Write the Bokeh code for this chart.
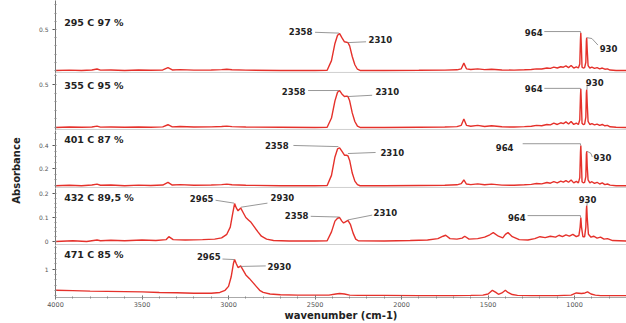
from math import pi

from bokeh.core.properties import value
from bokeh.embed import file_html
from bokeh.layouts import column, row
from bokeh.models import FixedTicker, Range1d, Span
from bokeh.plotting import figure
from bokeh.resources import INLINE

# ---------------------------------------------------------------- data
WN_MAJOR = [4000, 3500, 3000, 2500, 2000, 1500, 1000]
WN_MINOR = list(range(4000, 699, -100))

TITLES = ["295 C  97 %", "355 C 95 %", "401 C  87 %", "432 C 89,5 %", "471 C  85 %"]

# wavenumber grid shared by the three low-temperature spectra (cm-1)
wn_low = [4000, 3920, 3850, 3790, 3760, 3740, 3680, 3600, 3520, 3450, 3380, 3350,
          3325, 3280, 3200, 3100, 3040, 3010, 2980, 2900, 2700, 2500, 2430, 2405,
          2385, 2370, 2358, 2345, 2330, 2318, 2310, 2300, 2285, 2270, 2255, 2240,
          2100, 1900, 1750, 1680, 1655, 1640, 1625, 1600, 1560, 1520, 1480, 1420,
          1350, 1290, 1250, 1220, 1190, 1160, 1140, 1120, 1100, 1080, 1065, 1050,
          1035, 1020, 1005, 990, 978, 970, 966, 964, 961, 957, 950, 942,
          935, 932, 930, 927, 922, 912, 900, 885, 870, 855, 840, 825,
          810, 795, 760, 700]

abs_295 = [0.0, 0.004, 0.0, 0.006, 0.018, 0.004, 0.006, 0.0, 0.005, 0.002, 0.006, 0.035,
           0.006, 0.01, 0.004, 0.006, 0.01, 0.014, 0.008, 0.004, 0.0, 0.0, 0.002, 0.12,
           0.33, 0.43, 0.45, 0.40, 0.35, 0.345, 0.34, 0.30, 0.17, 0.07, 0.015, 0.0,
           0.0, 0.002, 0.004, 0.008, 0.02, 0.09, 0.02, 0.012, 0.02, 0.01, 0.015, 0.006,
           0.004, 0.008, 0.012, 0.02, 0.018, 0.03, 0.025, 0.04, 0.03, 0.045, 0.04, 0.055,
           0.035, 0.06, 0.03, 0.045, 0.03, 0.08, 0.38, 0.46, 0.30, 0.04, 0.03, 0.035,
           0.10, 0.36, 0.40, 0.25, 0.06, 0.03, 0.04, 0.025, 0.035, 0.02, 0.03, 0.015,
           0.02, 0.005, 0.0, 0.0]

abs_355 = [0.0, 0.005, 0.002, 0.006, 0.016, 0.004, 0.006, 0.002, 0.006, 0.003, 0.007, 0.032,
           0.007, 0.012, 0.005, 0.007, 0.012, 0.016, 0.01, 0.005, 0.002, 0.0, 0.002, 0.11,
           0.31, 0.41, 0.43, 0.39, 0.36, 0.365, 0.36, 0.31, 0.17, 0.07, 0.015, 0.0,
           0.0, 0.003, 0.005, 0.01, 0.025, 0.10, 0.025, 0.015, 0.025, 0.012, 0.02, 0.008,
           0.005, 0.01, 0.015, 0.025, 0.02, 0.035, 0.03, 0.05, 0.035, 0.055, 0.045, 0.065,
           0.04, 0.07, 0.035, 0.05, 0.035, 0.09, 0.37, 0.45, 0.30, 0.05, 0.035, 0.04,
           0.12, 0.40, 0.44, 0.28, 0.07, 0.035, 0.045, 0.03, 0.04, 0.025, 0.035, 0.02,
           0.025, 0.008, 0.002, 0.0]

abs_401 = [0.05, 0.054, 0.05, 0.056, 0.064, 0.054, 0.056, 0.05, 0.055, 0.052, 0.056, 0.08,
           0.056, 0.06, 0.054, 0.056, 0.06, 0.064, 0.058, 0.054, 0.05, 0.05, 0.052, 0.14,
           0.30, 0.37, 0.38, 0.35, 0.315, 0.315, 0.31, 0.27, 0.16, 0.09, 0.06, 0.05,
           0.05, 0.052, 0.054, 0.058, 0.068, 0.10, 0.065, 0.06, 0.066, 0.058, 0.064, 0.055,
           0.054, 0.058, 0.062, 0.07, 0.066, 0.078, 0.072, 0.085, 0.075, 0.09, 0.082, 0.095,
           0.08, 0.10, 0.075, 0.088, 0.075, 0.12, 0.34, 0.40, 0.28, 0.085, 0.075, 0.08,
           0.13, 0.32, 0.35, 0.22, 0.10, 0.075, 0.085, 0.07, 0.08, 0.065, 0.075, 0.06,
           0.065, 0.055, 0.05, 0.05]

wn_432 = [4000, 3900, 3820, 3760, 3740, 3680, 3600, 3500, 3420, 3360, 3345, 3320,
          3250, 3150, 3080, 3040, 3010, 2990, 2975, 2965, 2955, 2945, 2938, 2930,
          2915, 2900, 2885, 2870, 2850, 2830, 2810, 2780, 2740, 2650, 2500, 2430,
          2405, 2385, 2370, 2358, 2345, 2335, 2322, 2310, 2295, 2280, 2265, 2250,
          2100, 1950, 1850, 1790, 1760, 1745, 1720, 1680, 1650, 1635, 1610, 1560,
          1520, 1490, 1470, 1440, 1415, 1400, 1385, 1360, 1320, 1270, 1230, 1200,
          1170, 1140, 1110, 1090, 1070, 1050, 1030, 1010, 990, 975, 968, 964,
          960, 952, 942, 935, 932, 930, 927, 920, 905, 890, 870, 850,
          830, 810, 780, 700]

abs_432 = [0.0, 0.003, 0.0, 0.006, 0.003, 0.005, 0.003, 0.006, 0.004, 0.008, 0.02, 0.008,
           0.006, 0.008, 0.01, 0.015, 0.03, 0.06, 0.12, 0.158, 0.14, 0.128, 0.133, 0.14,
           0.12, 0.10, 0.09, 0.08, 0.06, 0.04, 0.022, 0.01, 0.004, 0.002, 0.002, 0.003,
           0.04, 0.085, 0.097, 0.10, 0.085, 0.077, 0.083, 0.088, 0.07, 0.035, 0.01, 0.003,
           0.002, 0.004, 0.006, 0.012, 0.022, 0.026, 0.012, 0.01, 0.014, 0.022, 0.01, 0.012,
           0.018, 0.028, 0.037, 0.022, 0.015, 0.03, 0.037, 0.02, 0.008, 0.006, 0.012, 0.02,
           0.016, 0.022, 0.018, 0.026, 0.02, 0.028, 0.022, 0.03, 0.02, 0.025, 0.06, 0.10,
           0.06, 0.02, 0.02, 0.06, 0.13, 0.15, 0.10, 0.03, 0.018, 0.022, 0.014, 0.018,
           0.01, 0.012, 0.004, 0.002]

wn_471 = [4000, 3900, 3800, 3700, 3600, 3500, 3400, 3300, 3200, 3100, 3050, 3020,
          3000, 2985, 2972, 2965, 2955, 2945, 2938, 2930, 2915, 2900, 2880, 2860,
          2840, 2820, 2800, 2760, 2700, 2600, 2500, 2420, 2380, 2358, 2330, 2300,
          2250, 2100, 1900, 1700, 1600, 1530, 1500, 1475, 1455, 1440, 1420, 1400,
          1385, 1360, 1330, 1250, 1100, 1020, 990, 960, 940, 925, 905, 880,
          850, 800, 700]

abs_471 = [0.20, 0.19, 0.17, 0.16, 0.15, 0.14, 0.12, 0.11, 0.09, 0.09, 0.12, 0.20,
           0.35, 0.70, 1.20, 1.36, 1.20, 1.06, 1.08, 1.12, 0.95, 0.78, 0.65, 0.50,
           0.35, 0.20, 0.12, 0.06, 0.03, 0.02, 0.02, 0.02, 0.06, 0.08, 0.06, 0.02,
           0.01, 0.01, 0.0, 0.0, 0.01, 0.02, 0.06, 0.20, 0.12, 0.05, 0.10, 0.20,
           0.12, 0.04, 0.01, 0.0, 0.0, 0.02, 0.10, 0.08, 0.10, 0.14, 0.06, 0.02,
           0.0, 0.0, 0.0]

# ---------------------------------------------------------------- styling
LINE = "#e5312b"
LEAD = "#7d7d7d"
FONT = "DejaVu Sans"
TOTAL_W, LEFT_W = 626, 22

# peak call-outs: (text, x, y, align, leader x list, leader y list)
panels = [
    dict(wn=wn_low, ab=abs_295, height=73, yr=(-0.037, 0.854), ticks=[0.5],
         minor=[i / 10 for i in range(0, 9)], title_y=0.585, sep=-0.024,
         notes=[("2358", 2515, 0.476, "right", [2500, 2362], [0.466, 0.456]),
                ("2310", 2191, 0.378, "left", [2310, 2205], [0.34, 0.35]),
                ("964", 1185, 0.463, "right", [1175, 966, 966], [0.475, 0.475, 0.46]),
                ("930", 855, 0.27, "left", [928, 900, 865], [0.40, 0.39, 0.31])]),
    dict(wn=wn_low, ab=abs_355, height=57, yr=(-0.035, 0.628), ticks=[0.5],
         minor=[i / 10 for i in range(0, 7)], title_y=0.49, sep=-0.023,
         notes=[("2358", 2555, 0.419, "right", [2540, 2362], [0.43, 0.43]),
                ("2310", 2151, 0.419, "left", [2310, 2170], [0.36, 0.375]),
                ("964", 1185, 0.453, "right", [1175, 966, 966], [0.455, 0.455, 0.45]),
                ("930", 935, 0.525, "left", [928, 928], [0.49, 0.44])]),
    dict(wn=wn_low, ab=abs_401, height=58, yr=(0.026, 0.53), ticks=[0.2, 0.4],
         minor=[i / 20 for i in range(1, 11)], title_y=0.45, sep=0.035,
         notes=[("2358", 2653, 0.40, "right", [2625, 2365], [0.40, 0.39]),
                ("2310", 2122, 0.339, "left", [2310, 2150], [0.33, 0.339]),
                ("964", 1353, 0.383, "right", [1300, 966, 966], [0.415, 0.415, 0.40]),
                ("930", 890, 0.296, "left", [928, 905, 898], [0.35, 0.33, 0.30])]),
    dict(wn=wn_432, ab=abs_432, height=57, yr=(-0.0167, 0.221), ticks=[0.0, 0.1, 0.2],
         minor=[i / 50 for i in range(0, 11)], title_y=0.183, sep=-0.0125,
         notes=[("2965", 3087, 0.179, "right", [3075, 2968], [0.172, 0.16]),
                ("2930", 2757, 0.183, "left", [2928, 2775], [0.143, 0.16]),
                ("2358", 2538, 0.108, "right", [2525, 2360], [0.105, 0.102]),
                ("2310", 2162, 0.121, "left", [2310, 2170], [0.09, 0.11]),
                ("964", 1283, 0.10, "right", [1272, 966, 966], [0.108, 0.108, 0.10]),
                ("930", 925, 0.175, "center", [928, 928], [0.165, 0.15])]),
    dict(wn=wn_471, ab=abs_471, height=78, yr=(-0.071, 1.89), ticks=[1],
         minor=[i / 5 for i in range(0, 10)], title_y=1.54, sep=None,
         notes=[("2965", 3046, 1.46, "right", [3035, 2968], [1.38, 1.36]),
                ("2930", 2775, 1.107, "left", [2930, 2785], [1.10, 1.12])]),
]

x_range = Range1d(4000, 700)
figs = []
for i, (title, cfg) in enumerate(zip(TITLES, panels)):
    last = i == len(panels) - 1
    p = figure(width=TOTAL_W - LEFT_W, height=cfg["height"], x_range=x_range,
               y_range=Range1d(*cfg["yr"]), output_backend="svg",
               toolbar_location=None, x_axis_location="below" if last else None,
               min_border=0, min_border_left=55 - LEFT_W)
    p.outline_line_color = None
    p.grid.visible = False
    p.background_fill_color = "white"

    # spectrum
    p.line(cfg["wn"], cfg["ab"], line_color=LINE, line_width=1.4)

    # panel separator
    if cfg["sep"] is not None:
        p.add_layout(Span(location=cfg["sep"], dimension="width",
                          line_color="#cfcfcf", line_width=1))

    # temperature / yield caption
    p.text(x=[3950], y=[cfg["title_y"]], text=[title], text_font=value(FONT),
           text_font_style="bold", text_font_size="9.5px", text_color="#222222",
           text_baseline="middle", text_align="left")

    # peak call-outs
    for txt, tx, ty, align, lx, ly in cfg["notes"]:
        p.line(lx, ly, line_color=LEAD, line_width=0.8)
        p.text(x=[tx], y=[ty], text=[txt], text_font=value(FONT),
               text_font_style="bold", text_font_size="8.5px", text_color="#222222",
               text_baseline="middle", text_align=align)

    ya = p.yaxis[0]
    ya.ticker = FixedTicker(ticks=cfg["ticks"], minor_ticks=cfg["minor"])
    ya.axis_line_color = "#777777"
    ya.major_tick_line_color = "#555555"
    ya.minor_tick_line_color = "#888888"
    ya.major_tick_out = 3
    ya.major_tick_in = 0
    ya.minor_tick_out = 1
    ya.minor_tick_in = 1
    ya.major_label_text_font = FONT
    ya.major_label_text_font_size = "6px"
    ya.major_label_text_color = "#555555"
    ya.major_label_standoff = 4

    if last:
        xa = p.xaxis[0]
        xa.ticker = FixedTicker(ticks=WN_MAJOR, minor_ticks=WN_MINOR)
        xa.axis_line_color = "#aaaaaa"
        xa.major_tick_line_color = "#666666"
        xa.minor_tick_line_color = "#888888"
        xa.major_tick_out = 2
        xa.major_tick_in = 2
        xa.minor_tick_out = 1
        xa.minor_tick_in = 1
        xa.major_label_text_font = FONT
        xa.major_label_text_font_size = "6.5px"
        xa.major_label_text_color = "#555555"
        xa.major_label_standoff = 2
        xa.axis_label = "wavenumber (cm-1)"
        xa.axis_label_text_font = FONT
        xa.axis_label_text_font_style = "bold"
        xa.axis_label_text_font_size = "10px"
        xa.axis_label_text_color = "#222222"
        xa.axis_label_standoff = 0
    figs.append(p)

# vertical axis title strip
lab = figure(width=LEFT_W, height=sum(c["height"] for c in panels),
             x_range=Range1d(0, LEFT_W), y_range=Range1d(0, 323),
             output_backend="svg", toolbar_location=None, min_border=0)
lab.axis.visible = False
lab.grid.visible = False
lab.outline_line_color = None
lab.text(x=[16], y=[153], text=["Absorbance"], angle=pi / 2, text_font=value(FONT),
         text_font_style="bold", text_font_size="10px", text_color="#222222",
         text_align="center", text_baseline="middle")

layout = row(lab, column(*figs, spacing=0), spacing=0)
open("out.html", "w").write(file_html(layout, INLINE))
